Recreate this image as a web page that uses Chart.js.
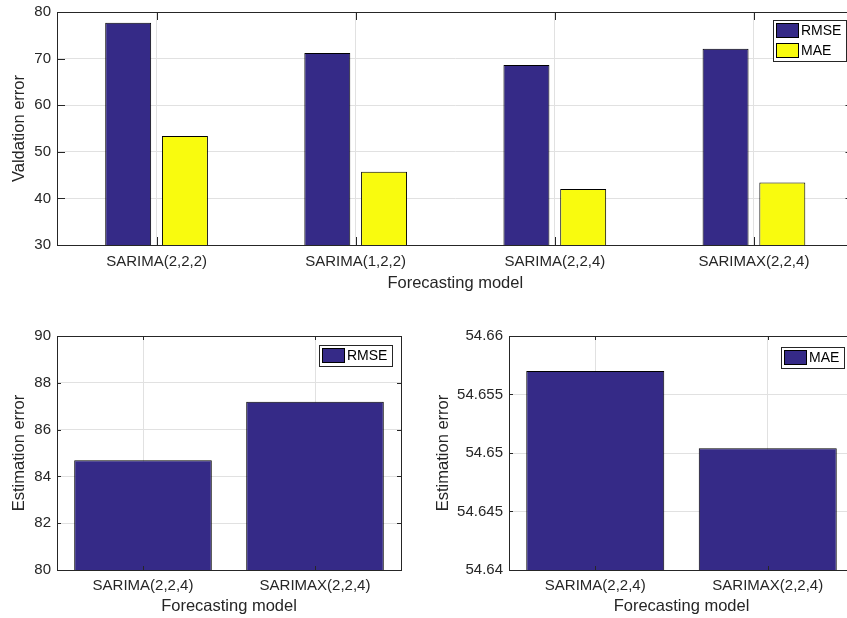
<!DOCTYPE html>
<html>
<head>
<meta charset="utf-8">
<script src="https://cdn.jsdelivr.net/npm/chart.js@4.4.1/dist/chart.umd.min.js"></script>
<style>
  html, body { margin: 0; padding: 0; background: #fff; overflow: hidden; width: 847px; height: 618px; }
  canvas { position: absolute; display: block; }
</style>
</head>
<body>
<canvas id="validation" width="860" height="300" style="left:0;top:0"></canvas>
<canvas id="estRmse" width="425" height="308" style="left:0;top:310px"></canvas>
<canvas id="estMae" width="435" height="308" style="left:425px;top:310px"></canvas>
<script>
// Validation errors of the four candidate models
const validationModels = ['SARIMA(2,2,2)', 'SARIMA(1,2,2)', 'SARIMA(2,2,4)', 'SARIMAX(2,2,4)'];
const validationRmse = [77.7, 71.2, 68.6, 72.1];
const validationMae = [53.4, 45.7, 42.0, 43.4];
const validationTicks = [30, 40, 50, 60, 70, 80];

// Estimation errors of the two final models
const estimationModels = ['SARIMA(2,2,4)', 'SARIMAX(2,2,4)'];
const estimationRmse = [84.69, 87.19];
const estimationRmseTicks = [80, 82, 84, 86, 88, 90];
const estimationMae = [54.657, 54.6504];
const estimationMaeTicks = [54.64, 54.645, 54.65, 54.655, 54.66];

const FONT = '"Liberation Sans", Arial, Helvetica, sans-serif';
const TEXT = '#262626';
const GRID = '#e1e1e1';
const BLUE = '#352A87';
const YELLOW = '#F9FB0E';

Chart.defaults.font.family = FONT;
Chart.defaults.color = TEXT;

// Closed axes box with inward tick marks on all four sides
const axesBox = {
  id: 'axesBox',
  afterDatasetsDraw(chart, args, o) {
    const { ctx, chartArea: a, scales } = chart;
    const L = o.tickLength;
    ctx.save();
    ctx.strokeStyle = TEXT;
    ctx.lineWidth = 1;
    ctx.beginPath();
    scales.x.ticks.forEach((t, i) => {
      const x = Math.round(scales.x.getPixelForTick(i)) + 0.5;
      ctx.moveTo(x, a.bottom); ctx.lineTo(x, a.bottom - L);
      ctx.moveTo(x, a.top); ctx.lineTo(x, a.top + L);
    });
    scales.y.ticks.forEach((t, i) => {
      const y = Math.round(scales.y.getPixelForTick(i)) + 0.5;
      ctx.moveTo(a.left, y); ctx.lineTo(a.left + L, y);
      ctx.moveTo(a.right, y); ctx.lineTo(a.right - L, y);
    });
    ctx.stroke();
    ctx.strokeRect(Math.round(a.left) + 0.5, Math.round(a.top) + 0.5,
                   Math.round(a.right - a.left), Math.round(a.bottom - a.top));
    ctx.restore();
  }
};

// Boxed legend in the upper right corner of the plot area
const boxLegend = {
  id: 'boxLegend',
  afterDraw(chart, args, o) {
    const { ctx, chartArea: a } = chart;
    const sets = chart.data.datasets;
    const pad = 3, swW = 23, swH = 15, gap = 2, padR = 5, rowGap = 5;
    ctx.save();
    ctx.font = '14px ' + FONT;
    const textW = Math.max(...sets.map(d => ctx.measureText(d.label).width));
    const w = Math.round(pad + swW + gap + textW + padR);
    const h = pad * 2 + sets.length * swH + (sets.length - 1) * rowGap;
    const x = Math.round(a.right - o.right - w);
    const y = Math.round(a.top + o.top);
    ctx.fillStyle = '#fff';
    ctx.fillRect(x, y, w, h);
    ctx.strokeStyle = TEXT;
    ctx.lineWidth = 1;
    ctx.strokeRect(x + 0.5, y + 0.5, w, h);
    sets.forEach((d, i) => {
      const sy = y + pad + i * (swH + rowGap);
      ctx.fillStyle = d.backgroundColor;
      ctx.fillRect(x + pad, sy, swW, swH);
      ctx.strokeStyle = '#000';
      ctx.strokeRect(x + pad + 0.5, sy + 0.5, swW - 1, swH - 1);
      ctx.fillStyle = '#000';
      ctx.textBaseline = 'middle';
      ctx.textAlign = 'left';
      ctx.fillText(d.label, x + pad + swW + gap, sy + swH / 2 + 0.5);
    });
    ctx.restore();
  }
};

function makeChart(id, cfg) {
  const tickFont = { size: 15, family: FONT };
  const titleFont = { size: 16.5, family: FONT };
  return new Chart(document.getElementById(id), {
    type: 'bar',
    data: {
      labels: cfg.labels,
      datasets: cfg.datasets.map(d => ({
        label: d.label,
        data: d.data,
        backgroundColor: d.color,
        borderColor: '#000',
        borderWidth: 1,
        borderSkipped: 'start',
        categoryPercentage: cfg.catPct,
        barPercentage: cfg.barPct
      }))
    },
    options: {
      responsive: false,
      animation: false,
      devicePixelRatio: 1,
      layout: { padding: { left: 0, top: cfg.padTop, right: cfg.padRight, bottom: 0 } },
      plugins: {
        legend: { display: false },
        tooltip: { enabled: false },
        axesBox: { tickLength: cfg.tickLength },
        boxLegend: { right: cfg.legendRight, top: cfg.legendTop }
      },
      scales: {
        x: {
          grid: { color: GRID, offset: false, drawTicks: false },
          border: { display: false },
          afterFit: s => { s.height = cfg.xHeight; },
          ticks: { padding: cfg.xTickPad, color: TEXT, font: tickFont, autoSkip: false, maxRotation: 0 },
          title: { display: true, text: 'Forecasting model', color: TEXT, font: titleFont,
                   padding: { top: 0, bottom: cfg.xTitlePad } }
        },
        y: {
          min: cfg.yTicks[0],
          max: cfg.yTicks[cfg.yTicks.length - 1],
          afterBuildTicks: s => { s.ticks = cfg.yTicks.map(v => ({ value: v })); },
          afterFit: s => { s.width = cfg.yWidth; s.paddingTop = 0; s.paddingBottom = 0; },
          grid: { color: GRID, drawTicks: false },
          border: { display: false },
          ticks: { padding: 6, color: TEXT, font: tickFont,
                   callback: v => String(Number(Number(v).toFixed(3))) },
          title: { display: true, text: cfg.yTitle, color: TEXT, font: titleFont,
                   padding: { top: cfg.yTitlePad, bottom: 0 } }
        }
      }
    },
    plugins: [axesBox, boxLegend]
  });
}

makeChart('validation', {
  labels: validationModels,
  datasets: [
    { label: 'RMSE', data: validationRmse, color: BLUE },
    { label: 'MAE', data: validationMae, color: YELLOW }
  ],
  yTicks: validationTicks,
  yTitle: 'Valdation error',
  catPct: 0.57, barPct: 0.81,
  padTop: 12, padRight: 6.5,
  xHeight: 55, xTickPad: 8, xTitlePad: 7,
  yWidth: 57, yTitlePad: 10,
  tickLength: 8,
  legendRight: 7.5, legendTop: 8
});

makeChart('estRmse', {
  labels: estimationModels,
  datasets: [{ label: 'RMSE', data: estimationRmse, color: BLUE }],
  yTicks: estimationRmseTicks,
  yTitle: 'Estimation error',
  catPct: 0.8, barPct: 1,
  padTop: 26, padRight: 24,
  xHeight: 48, xTickPad: 7, xTitlePad: 2,
  yWidth: 57, yTitlePad: 10,
  tickLength: 4,
  legendRight: 9, legendTop: 9
});

makeChart('estMae', {
  labels: estimationModels,
  datasets: [{ label: 'MAE', data: estimationMae, color: BLUE }],
  yTicks: estimationMaeTicks,
  yTitle: 'Estimation error',
  catPct: 0.8, barPct: 1,
  padTop: 26, padRight: 6,
  xHeight: 48, xTickPad: 7, xTitlePad: 2,
  yWidth: 84, yTitlePad: 8.4,
  tickLength: 4,
  legendRight: 10.5, legendTop: 11
});
</script>
</body>
</html>
